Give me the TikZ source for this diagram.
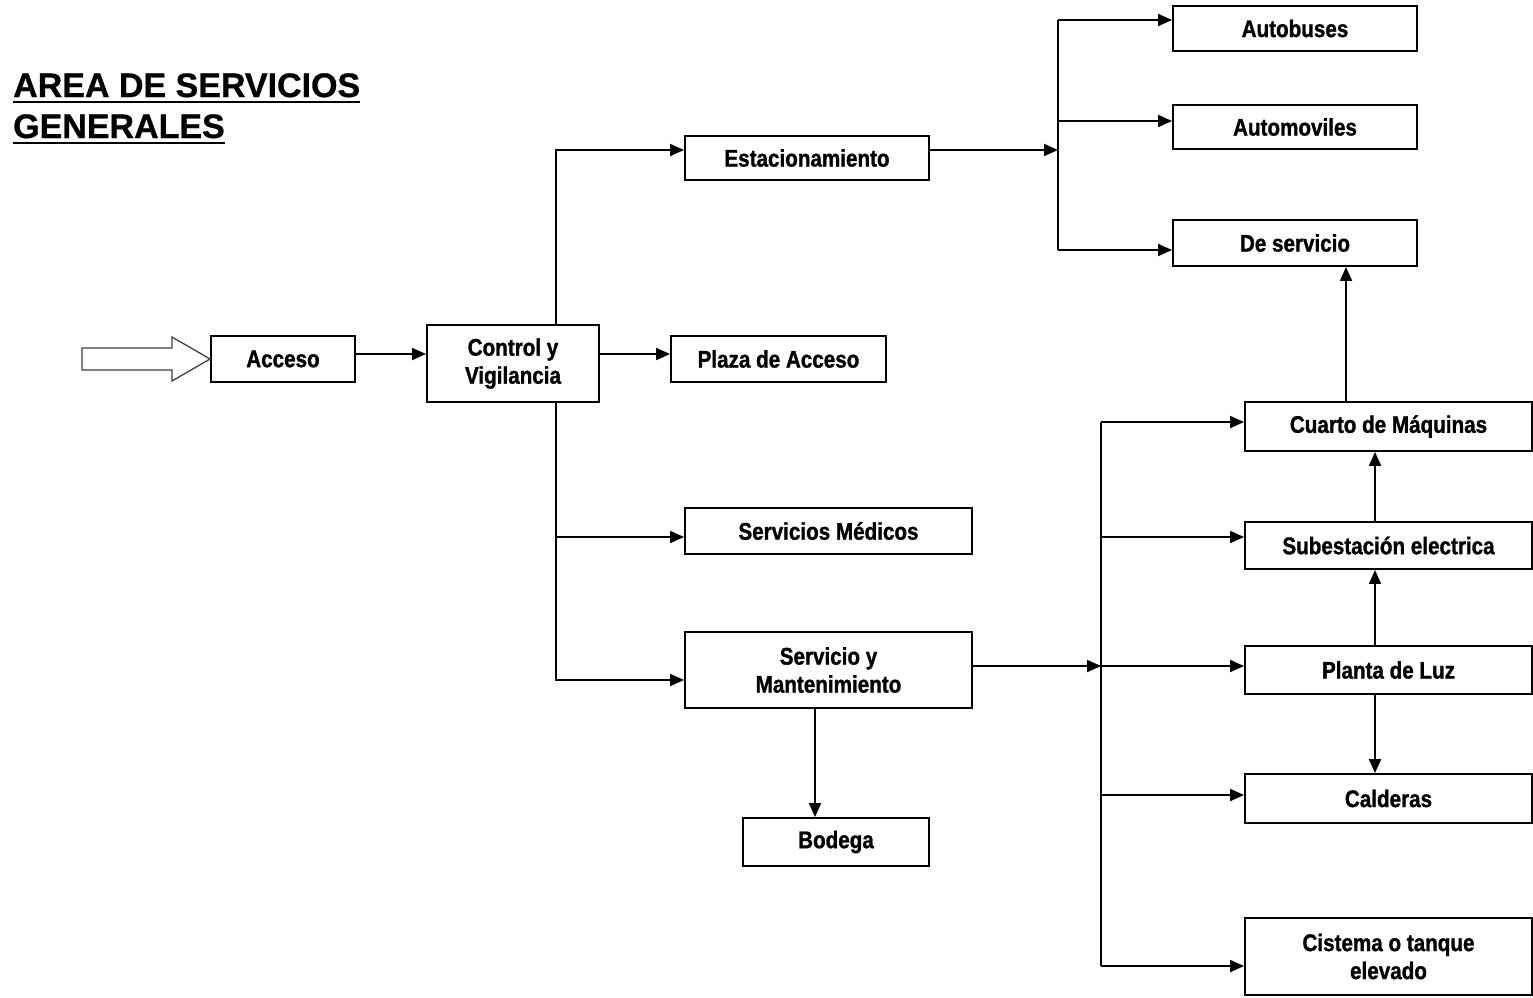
\documentclass[tikz,border=0pt]{standalone}
\usepackage{fontspec}
\setmainfont{Liberation Sans}
\newfontfamily\boxfont[FakeStretch=0.86,FakeBold=1.2]{Liberation Sans Bold}
\newfontfamily\titlefont[FakeBold=0.8]{Liberation Sans Bold}
\usetikzlibrary{arrows.meta}
\begin{document}
\begin{tikzpicture}[x=1pt,y=-1pt,
  every node/.style={inner sep=0pt},
  box/.style={draw, line width=1.9pt, align=center, font=\boxfont\fontsize{24}{28}\selectfont},
  ln/.style={line width=1.9pt},
  arr/.style={ln, -{Triangle[length=14pt,width=12pt]}},
  ttl/.style={anchor=base west, font=\titlefont\fontsize{34}{40}\selectfont}
]
\useasboundingbox[fill=white] (0,0) rectangle (1533,997);

% title
\node[ttl] (t1) at (13,97) {AREA DE SERVICIOS};
\node[ttl] (t2) at (13,138) {GENERALES};
\draw[line width=2.2pt] ([yshift=-5pt]t1.base west) -- ([yshift=-5pt]t1.base east);
\draw[line width=2.2pt] ([yshift=-5pt]t2.base west) -- ([yshift=-5pt]t2.base east);

% boxes
\node[box, minimum width=144pt, minimum height=46pt] (acc) at (283,359) {Acceso};
\node[box, minimum width=172pt, minimum height=77pt] (ctl) at (513,363.5) {Control y\\[0pt]Vigilancia};
\node[box, minimum width=215pt, minimum height=46pt] (plaza) at (778.5,359) {Plaza de Acceso};
\node[box, minimum width=244pt, minimum height=44pt] (est) at (807,158) {Estacionamiento};
\node[box, minimum width=287pt, minimum height=46pt] (med) at (828.5,531) {Servicios Médicos};
\node[box, minimum width=287pt, minimum height=76pt] (sm) at (828.5,670) {Servicio y\\[0pt]Mantenimiento};
\node[box, minimum width=186pt, minimum height=48pt] (bod) at (836,842) {Bodega};
\node[box, minimum width=244pt, minimum height=45pt] (bus) at (1295,28.5) {Autobuses};
\node[box, minimum width=244pt, minimum height=44pt] (auto) at (1295,127) {Automoviles};
\node[box, minimum width=244pt, minimum height=46pt] (deserv) at (1295,243) {De servicio};
\node[box, minimum width=287pt, minimum height=49pt] (cuarto) at (1388.5,426.5) {Cuarto de Máquinas};
\node[box, minimum width=287pt, minimum height=47pt] (sub) at (1388.5,545.5) {Subestación electrica};
\node[box, minimum width=287pt, minimum height=48pt] (planta) at (1388.5,670) {Planta de Luz};
\node[box, minimum width=287pt, minimum height=49pt] (cald) at (1388.5,798.5) {Calderas};
\node[box, minimum width=287pt, minimum height=77pt] (cist) at (1388.5,956.5) {Cistema o tanque\\[0pt]elevado};

% hollow entry arrow
\coordinate (tail) at (82,359);
\draw[line width=1.3pt, draw=black!75, fill=white]
  (tail) ++(0,-11) -- (172,348) -- (172,337) -- (acc.west) -- (172,381) -- (172,370) -- (82,370) -- cycle;

% main flow
\draw[arr] ([yshift=5pt]acc.east) -- ([yshift=5pt]acc.east -| ctl.west);
\draw[arr] ([yshift=9.5pt]ctl.east) -- ([yshift=9.5pt]ctl.east -| plaza.west);
\draw[arr] ([xshift=43pt]ctl.north) |- ([yshift=8pt]est.west);
\draw[arr] ([xshift=43pt]ctl.south) |- ([yshift=-10pt]sm.west);
\coordinate (cm) at (556,537);
\draw[arr] (cm) -- (cm -| med.west);
\draw[arr] ([xshift=-13.5pt]sm.south) -- ([xshift=-13.5pt]sm.south |- bod.north);

% parking branch
\coordinate (p0) at (1058,150);
\coordinate (p1) at (1058,20);
\coordinate (p2) at (1058,121);
\coordinate (p3) at (1058,250);
\draw[arr] ([yshift=8pt]est.east) -- (p0);
\draw[ln] (p1) -- (p3);
\draw[arr] (p1) -- (p1 -| bus.west);
\draw[arr] (p2) -- (p2 -| auto.west);
\draw[arr] (p3) -- (p3 -| deserv.west);

% maintenance branch
\coordinate (m0) at (1101,666);
\coordinate (m1) at (1101,422);
\coordinate (m2) at (1101,537);
\coordinate (m3) at (1101,666);
\coordinate (m4) at (1101,795);
\coordinate (m5) at (1101,966);
\draw[arr] ([yshift=4pt]sm.east) -- (m0);
\draw[ln] (m1) -- (m5);
\draw[arr] (m1) -- (m1 -| cuarto.west);
\draw[arr] (m2) -- (m2 -| sub.west);
\draw[arr] (m3) -- (m3 -| planta.west);
\draw[arr] (m4) -- (m4 -| cald.west);
\draw[arr] (m5) -- (m5 -| cist.west);

% vertical links on the right
\draw[arr] ([xshift=-42.5pt]cuarto.north) -- ([xshift=-42.5pt]cuarto.north |- deserv.south);
\draw[arr] ([xshift=-13.5pt]sub.north) -- ([xshift=-13.5pt]sub.north |- cuarto.south);
\draw[arr] ([xshift=-13.5pt]planta.north) -- ([xshift=-13.5pt]planta.north |- sub.south);
\draw[arr] ([xshift=-13.5pt]planta.south) -- ([xshift=-13.5pt]planta.south |- cald.north);
\end{tikzpicture}
\end{document}
